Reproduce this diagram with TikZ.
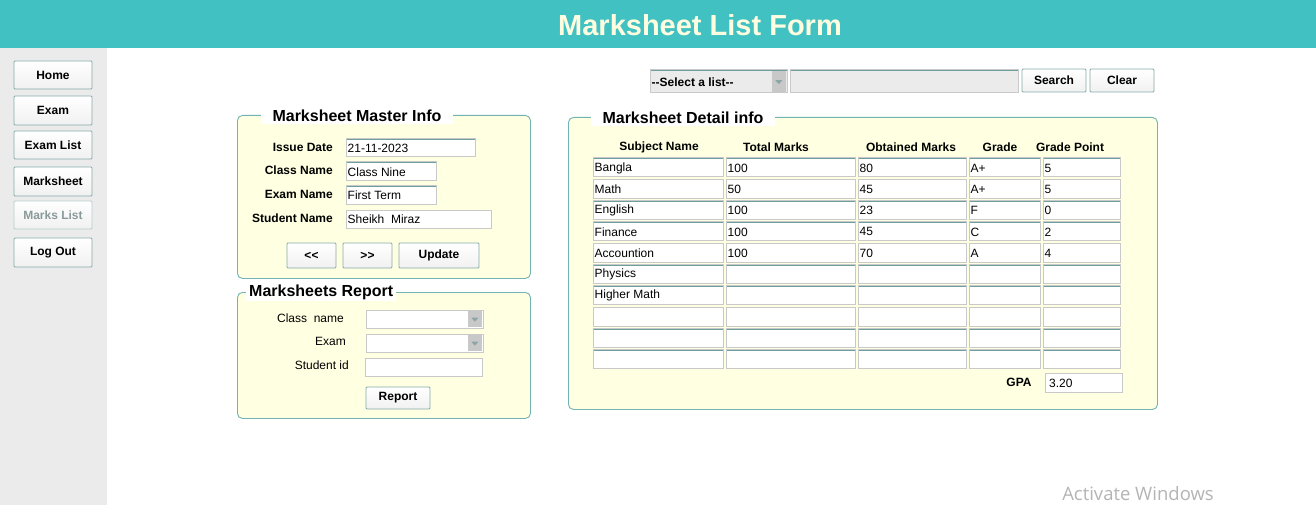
\documentclass[tikz,border=0pt]{standalone}
\usepackage{fontspec}
\setmainfont{Liberation Sans}
\newfontfamily\winfont{Open Sans}
\usetikzlibrary{calc}
\definecolor{hdr}{HTML}{41C1C1}
\definecolor{titlecol}{HTML}{FFFDE0}
\definecolor{side}{HTML}{EBEBEB}
\definecolor{panelfill}{HTML}{FFFFE2}
\definecolor{panelline}{HTML}{72B3B3}
\definecolor{fdark}{HTML}{6E9E9E}
\definecolor{flight}{HTML}{C9C9C9}
\definecolor{btnline}{HTML}{86AAAA}
\definecolor{arrowbg}{HTML}{C8C8C8}
\definecolor{arrowcol}{HTML}{8CA6A6}
\definecolor{disabled}{HTML}{8A9A9A}
\definecolor{wintext}{HTML}{B4B4B4}
\newcommand\fsz[1]{\fontsize{#1}{#1}\selectfont}
\newcommand\fld[6]{%
  \node[fieldbox,minimum width=#4pt,minimum height=#5pt,anchor=north west] (#1) at (#2,#3) {};
  \node[fieldtxt,anchor=west] (#1-t) at ([xshift=1.5pt,yshift=-0.5pt]#1.west) {#6};}
\newcommand\cmb[7]{%
  \node[fieldbox,fill=#7,minimum width=#4pt,minimum height=#5pt,anchor=north west] (#1) at (#2,#3) {};
  \node[fill=arrowbg,inner sep=0pt,minimum width=14pt,minimum height={(#5-2)*1pt},anchor=north east] (#1-a) at ([xshift=-1pt,yshift=-1pt]#1.north east) {};
  \fill[arrowcol] ([xshift=-3.5pt,yshift=1.5pt]#1-a.center) -- ++(7,0) -- ++(-3.5,4) -- cycle;
  \node[fieldtxt,font=\fsz{12}\bfseries,anchor=west] (#1-t) at ([xshift=1.5pt,yshift=-0.5pt]#1.west) {#6};}
\newcommand\btn[7][]{%
  \node[btnbox,#1,minimum width=#5pt,minimum height=#6pt,anchor=north west] (#2) at (#3,#4) {#7};}
\tikzset{
  fieldbox/.style={draw=flight,fill=white,line width=1pt,inner sep=0pt,outer sep=0pt,
    path picture={\draw[fdark,line width=2.4pt] (path picture bounding box.south west) -- (path picture bounding box.north west) -- (path picture bounding box.north east);}},
  fieldtxt/.style={font=\fsz{12},inner sep=0pt,text=black},
  btnbox/.style={draw=btnline,line width=0.9pt,top color=white,bottom color=side!70,inner sep=0pt,outer sep=0pt,
    font=\fsz{12}\bfseries,rounded corners=1pt},
  lbl/.style={font=\fsz{12}\bfseries,inner sep=0pt},
  rlbl/.style={font=\fsz{12},inner sep=0pt},
  panel/.style={draw=panelline,fill=panelfill,line width=0.9pt,rounded corners=5pt,inner sep=0pt,anchor=north west},
  ptitle/.style={fill=white,font=\fsz{16}\bfseries,inner ysep=2pt},
  colhead/.style={font=\fsz{12}\bfseries,inner sep=0pt}
}
\begin{document}
\begin{tikzpicture}[x=1pt,y=-1pt]
\useasboundingbox (0,0) rectangle (1316,505);
\fill[white] (0,0) rectangle (1316,505);
% header
\fill[hdr] (0,0) rectangle (1316,48);
\node[font=\fsz{29}\bfseries,text=titlecol,inner sep=0pt] (title) at (700,25) {Marksheet List Form};
% sidebar
\fill[side] (0,48) rectangle (107,505);
\btn{home}{14}{61}{78}{28}{Home}
\btn{exam}{14}{96}{78}{29}{Exam}
\btn{examlist}{14}{131}{78}{28}{Exam List}
\btn{marksheet}{14}{167}{78}{29}{Marksheet}
\btn[text=disabled,draw=btnline!60]{markslist}{14}{201}{78}{28}{Marks List}
\btn{logout}{14}{238}{78}{29}{Log Out}
% search bar
\cmb{sel}{650}{70}{137}{23}{-{}-Select a list-{}-}{side}
\node[fieldbox,fill=side,minimum width=228pt,minimum height=23pt,anchor=north west] (search) at (790,70) {};
\btn{searchbtn}{1022}{69}{64}{23}{Search}
\btn{clearbtn}{1090}{69}{64}{23}{Clear}
% master panel
\node[panel,minimum width=293pt,minimum height=163pt] (master) at (237,115) {};
\node[ptitle,inner xsep=12pt] (mastertitle) at (357,116) {Marksheet Master Info};
\node[lbl,anchor=east] (l-issue) at (333,147) {Issue Date};
\node[lbl,anchor=east] (l-class) at (333,170) {Class Name};
\node[lbl,anchor=east] (l-exam) at (333,194) {Exam Name};
\node[lbl,anchor=east] (l-student) at (333,218) {Student Name};
\fld{f-issue}{346}{139}{129}{18}{21-11-2023}
\fld{f-class}{346}{162}{90}{19}{Class Nine}
\fld{f-exam}{346}{186}{90}{18}{First Term}
\fld{f-student}{346}{210}{145}{18}{Sheikh\ \ Miraz}
\btn{prev}{287}{243}{49}{25}{<{}<}
\btn{next}{343}{243}{49}{25}{>{}>}
\btn{update}{399}{243}{80}{25}{Update}
% report panel
\node[panel,minimum width=293pt,minimum height=126pt] (report) at (237,292) {};
\node[ptitle,inner xsep=3pt,anchor=west] (reporttitle) at (246,292) {Marksheets Report};
\node[rlbl,anchor=east] (l-rclass) at (344,318) {Class\ \ name};
\node[rlbl,anchor=east] (l-rexam) at (346,341) {Exam};
\node[rlbl,anchor=east] (l-rsid) at (349,365) {Student id};
\cmb{c-rclass}{366}{310}{117}{18}{}{white}
\cmb{c-rexam}{366}{334}{117}{18}{}{white}
\fld{f-rsid}{365}{358}{117}{18}{}
\btn{reportbtn}{366}{387}{64}{22}{Report}
% detail panel
\node[panel,minimum width=589pt,minimum height=292pt] (detail) at (568,117) {};
\node[ptitle,inner xsep=12pt] (detailtitle) at (683,118) {Marksheet Detail info};
\node[colhead] (h1) at (659,147) {Subject Name};
\node[colhead] (h2) at (776,147) {Total Marks};
\node[colhead] (h3) at (911,147) {Obtained Marks};
\node[colhead] (h4) at (1000,147) {Grade};
\node[colhead] (h5) at (1070,147) {Grade Point};
\foreach \a/\b/\c/\d/\e [count=\r from 0, evaluate=\r as \y using 158+21.3*\r] in
  {Bangla/100/80/A+/5, Math/50/45/A+/5, English/100/23/F/0, Finance/100/45/C/2,
   Accountion/100/70/A/4, Physics/{}/{}/{}/{}, Higher Math/{}/{}/{}/{},
   {}/{}/{}/{}/{}, {}/{}/{}/{}/{}, {}/{}/{}/{}/{}}{
  \fld{d\r-1}{593}{\y}{130}{19}{\a}
  \fld{d\r-2}{726}{\y}{129}{19}{\b}
  \fld{d\r-3}{858}{\y}{108}{19}{\c}
  \fld{d\r-4}{969}{\y}{71}{19}{\d}
  \fld{d\r-5}{1043}{\y}{77}{19}{\e}
}
\node[lbl] (l-gpa) at (1019,382) {GPA};
\node[fieldbox,minimum width=77pt,minimum height=19pt,anchor=north west] (f-gpa) at (1045,373) {};
\node[fieldtxt,anchor=west] (f-gpa-t) at ([xshift=4pt,yshift=-0.5pt]f-gpa.west) {3.20};
% watermark
\node[font=\winfont\fsz{18.5},text=wintext,inner sep=0pt] (activate) at (1138,494) {Activate Windows};
\end{tikzpicture}
\end{document}
